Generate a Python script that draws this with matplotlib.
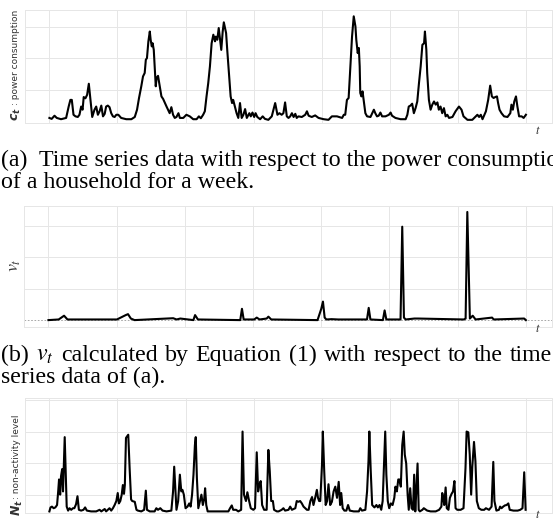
import numpy as np
import matplotlib
matplotlib.use("Agg")
import matplotlib.pyplot as plt

plt.rcParams['mathtext.fontset'] = 'stix'

# (a) power consumption c_t over one week (hours)
hours_a = [0.0, 0.8, 1.8, 2.6, 4.1, 5.9, 6.8, 7.4, 7.9, 8.5, 9.2, 10.0, 10.6, 11.2, 11.7, 12.1, 12.7, 13.3,
           13.9, 14.5, 15.1, 15.9, 16.5, 17.1, 17.7, 18.3, 18.9, 19.5, 20.0, 20.6, 21.2, 21.8, 22.4, 23.0,
           23.6, 24.3, 25.3, 27.1, 28.9, 30.1, 30.9, 31.6, 32.4, 33.0, 33.6, 34.0, 34.4, 34.9, 35.4, 35.7,
           36.1, 36.4, 36.8, 37.1, 37.5, 37.8, 38.3, 38.9, 39.5, 40.1, 41.3, 42.4, 43.0, 43.6, 44.2, 44.8,
           45.5, 46.0, 47.2, 48.3, 49.5, 50.7, 51.9, 52.7, 53.4, 54.2, 54.8, 55.4, 56.0, 56.6, 57.2, 57.8,
           58.4, 58.7, 59.2, 59.7, 60.1, 60.6, 61.1, 61.5, 62.3, 62.7, 63.4, 63.9, 64.4, 64.8, 65.4, 66.0,
           66.6, 67.2, 67.8, 68.4, 69.0, 69.6, 70.5, 71.0, 71.6, 72.2, 72.7, 73.3, 74.3, 75.2, 76.0, 77.2,
           78.4, 79.6, 80.4, 81.1, 81.9, 82.5, 83.1, 83.7, 84.3, 84.9, 85.5, 86.1, 86.7, 87.2, 87.8, 89.0,
           90.2, 90.8, 91.4, 92.5, 93.7, 94.9, 96.7, 98.4, 99.6, 101.4, 103.2, 103.8, 104.3, 104.9, 105.5,
           106.1, 106.7, 107.3, 107.9, 108.2, 108.7, 109.1, 109.4, 109.6, 110.0, 110.4, 110.8, 111.4, 112.0,
           113.2, 114.4, 114.9, 115.5, 116.1, 116.7, 117.3, 118.5, 119.7, 120.3, 120.8, 122.0, 123.8, 125.6,
           126.2, 126.7, 127.3, 127.9, 128.5, 129.1, 129.7, 130.3, 130.9, 131.5, 132.1, 132.4, 132.9, 133.2,
           133.8, 134.4, 135.0, 135.6, 136.2, 136.8, 137.3, 137.9, 138.5, 139.1, 139.7, 140.3, 140.9, 142.1,
           143.2, 144.4, 145.3, 146.0, 147.4, 149.1, 150.3, 150.9, 151.5, 152.1, 152.7, 153.9, 154.7, 155.4,
           156.0, 156.6, 157.2, 157.8, 158.2, 158.7, 159.4, 160.3, 161.5, 162.5, 162.9, 163.4, 163.9, 164.5,
           165.0, 165.6, 166.5, 167.2, 168.0]
power_a = [0.12, 0.09, 0.19, 0.12, 0.08, 0.12, 0.48, 0.69, 0.69, 0.22, 0.17, 0.15, 0.22, 0.48, 0.38, 0.78, 0.74, 0.85,
           1.20, 0.69, 0.15, 0.38, 0.48, 0.22, 0.33, 0.51, 0.17, 0.25, 0.48, 0.51, 0.46, 0.27, 0.17, 0.15,
           0.22, 0.22, 0.12, 0.08, 0.08, 0.15, 0.38, 0.75, 1.12, 1.43, 1.54, 1.96, 2.01, 2.54, 2.85, 2.59,
           2.38, 2.48, 2.27, 1.75, 1.12, 1.38, 1.45, 1.12, 0.80, 0.72, 0.48, 0.27, 0.46, 0.22, 0.12, 0.15,
           0.27, 0.12, 0.12, 0.22, 0.17, 0.08, 0.08, 0.17, 0.11, 0.22, 0.33, 0.80, 1.22, 1.75, 2.48, 2.75,
           2.54, 2.69, 2.59, 2.96, 2.64, 2.27, 2.85, 3.14, 2.80, 2.27, 1.43, 0.80, 0.59, 0.69, 0.48, 0.27,
           0.12, 0.59, 0.12, 0.22, 0.40, 0.12, 0.27, 0.17, 0.29, 0.15, 0.27, 0.15, 0.08, 0.17, 0.09, 0.06,
           0.17, 0.59, 0.22, 0.27, 0.22, 0.27, 0.61, 0.17, 0.12, 0.17, 0.27, 0.15, 0.25, 0.12, 0.17, 0.15,
           0.22, 0.33, 0.19, 0.15, 0.20, 0.12, 0.08, 0.06, 0.17, 0.17, 0.12, 0.22, 0.22, 0.69, 0.75,
           1.75, 2.69, 3.33, 3.01, 2.59, 2.17, 2.33, 1.75, 0.91, 0.80, 0.96, 0.69, 0.27, 0.17,
           0.15, 0.38, 0.27, 0.17, 0.19, 0.29, 0.17, 0.17, 0.22, 0.29, 0.19, 0.12, 0.08, 0.08,
           0.22, 0.48, 0.51, 0.57, 0.27, 0.43, 0.64, 1.22, 1.75, 2.43, 2.48, 2.85, 2.27, 1.54,
           0.69, 0.38, 0.54, 0.64, 0.54, 0.61, 0.38, 0.48, 0.27, 0.43, 0.17, 0.22, 0.12, 0.15,
           0.33, 0.48, 0.38, 0.17, 0.06, 0.06, 0.17, 0.22, 0.15, 0.22, 0.08, 0.33, 0.69, 1.14,
           0.80, 0.75, 0.78, 0.80, 0.59, 0.38, 0.27, 0.17, 0.15, 0.27, 0.54, 0.38, 0.64, 0.80,
           0.48, 0.17, 0.17, 0.12, 0.22]

# (b) v_t from Equation (1)
hours_b = [0, 3.6, 5.5, 6.7, 24.1, 27.2, 28.0, 29.0, 30.3, 43.9, 45.1, 46.4, 51.0, 51.6, 52.6, 67.5, 68.1, 68.7,
           72.4, 73.3, 74.3, 76.8, 77.4, 78.4, 94.7, 96.0, 96.6, 97.2, 97.8, 99.6, 102.0, 112.1, 112.7, 113.3,
           117.7, 118.3, 118.9, 123.9, 124.5, 125.1, 125.7, 128.8, 130.1, 146.2, 146.8, 147.4, 148.3, 149.3,
           150.3, 156.1, 156.7, 167.4, 168.0]
v_b = [0.0, 0.02, 0.14, 0.02, 0.02, 0.16, 0.19, 0.05, 0.0, 0.06, 0.02, 0.05, 0.0, 0.16, 0.02, 0.0, 0.36, 0.02,
       0.02, 0.08, 0.02, 0.05, 0.11, 0.02, 0.0, 0.36, 0.59, 0.08, 0.02, 0.03, 0.02, 0.02, 0.39, 0.02,
       0.0, 0.31, 0.02, 0.02, 2.98, 0.08, 0.02, 0.05, 0.05, 0.02, 0.05, 3.45, 0.05, 0.14,
       0.02, 0.08, 0.02, 0.05, 0.0]

# (c) non-activity level N_t
hours_c = [0.0, 0.4, 0.9, 1.5, 2.1, 2.7, 3.1, 3.4, 3.8, 4.1, 4.5, 4.8, 5.2, 5.4, 5.8, 6.1, 6.6, 7.1, 7.7, 8.3,
           8.8, 9.4, 9.9, 10.4, 11.2, 12.0, 12.6, 13.2, 14.7, 16.5, 17.7, 18.3, 19.5, 20.0, 20.6, 21.2, 21.8,
           22.4, 23.0, 23.6, 24.1, 24.5, 25.0, 25.5, 25.9, 26.3, 26.6, 27.0, 27.4, 27.8, 28.3, 28.8, 29.2,
           30.1, 30.7, 31.2, 32.4, 33.4, 34.0, 34.4, 35.4, 37.1, 37.7, 38.3, 39.1, 39.9, 41.3, 43.0, 43.6,
           44.0, 44.4, 44.8, 45.4, 46.0, 46.5, 46.9, 47.4, 48.0, 48.7, 49.3, 49.8, 50.3, 50.8, 51.3, 51.6,
           52.0, 52.5, 53.1, 53.6, 54.1, 54.6, 54.9, 55.3, 55.8, 57.8, 60.1, 63.1, 63.7, 64.3, 64.8, 65.8,
           66.6, 67.6, 68.1, 68.6, 69.3, 69.8, 70.3, 71.0, 71.9, 72.5, 73.1, 73.6, 74.0, 74.5, 75.0, 75.7,
           76.6, 77.2, 77.7, 78.2, 78.8, 79.2, 80.2, 80.8, 81.9, 82.5, 83.1, 84.3, 84.9, 85.5, 86.7, 87.2,
           87.8, 88.4, 89.0, 89.6, 90.2, 90.8, 91.4, 92.0, 92.6, 93.1, 93.7, 94.3, 94.7, 95.1, 95.5, 96.1,
           96.4, 96.9, 97.4, 97.9, 98.4, 99.0, 99.6, 100.2, 100.8, 101.4, 102.0, 102.5, 102.9, 103.4, 104.0,
           104.7, 105.3, 105.9, 107.3, 109.1, 109.6, 110.2, 111.4, 112.0, 112.5, 112.8, 113.3, 113.8, 114.6,
           115.3, 115.8, 116.4, 117.0, 117.5, 118.0, 118.4, 118.8, 119.3, 119.8, 120.4, 121.0, 121.6, 122.0,
           122.5, 123.0, 123.4, 123.9, 124.4, 124.9, 125.3, 125.8, 126.3, 126.7, 127.2, 127.7, 128.2, 128.6,
           129.0, 129.3, 129.8, 130.2, 130.6, 131.5, 132.0, 133.2, 134.4, 136.2, 137.4, 138.2, 138.5, 138.9,
           139.2, 139.7, 140.1, 140.7, 141.2, 141.8, 142.3, 142.8, 143.2, 143.8, 145.0, 146.0, 146.7, 147.1,
           147.7, 148.2, 148.7, 149.1, 149.7, 150.2, 150.7, 151.4, 152.3, 153.3, 153.9, 155.0, 155.9, 156.5,
           156.9, 157.6, 158.5, 158.9, 159.4, 160.0, 160.6, 161.2, 161.8, 162.3, 163.6, 165.1, 166.0, 166.8,
           167.4, 167.9]
level_c = [0, 0.05, 0.06, 0.04, 0.05, 0.08, 0.25, 0.40, 0.21, 0.44, 0.53, 0.25, 0.71, 0.93, 0.42, 0.06, 0.01, 0.04, 0.02, 0.04,
           0.04, 0.09, 0.19, 0.02, 0.01, 0.02, 0.05, 0.01, 0, 0, 0.02, 0, 0.03, 0, 0.02, 0.04, 0.01,
           0.04, 0.08, 0.13, 0.23, 0.10, 0.13, 0.21, 0.33, 0.22, 0.33, 0.92, 0.94, 0.96, 0.53, 0.15, 0.13,
           0.12, 0.02, 0.01, 0, 0.02, 0.26, 0.02, 0, 0, 0.04, 0.02, 0.04, 0.01, 0, 0.01, 0.25,
           0.56, 0.29, 0.02, 0.13, 0.46, 0.25, 0.27, 0.21, 0.04, 0.06, 0.10, 0.06, 0.21, 0.46, 0.83, 0.93,
           0.42, 0.04, 0.13, 0.21, 0.08, 0.16, 0.29, 0.08, 0, 0, 0, 0, 0.04, 0.075, 0.02, 0.02,
           0, 0.02, 1.0, 0.21, 0.13, 0.24, 0.15, 0.04, 0.02, 0.04, 0.74, 0.25, 0.33, 0.38, 0.08, 0.02,
           0.02, 0.77, 0.50, 0.13, 0.13, 0.02, 0, 0, 0.02, 0.04, 0.01, 0.02, 0.06, 0.02, 0.04, 0.13,
           0.12, 0.13, 0.10, 0.06, 0.04, 0.02, 0.02, 0.13, 0.18, 0.08, 0.17, 0.27, 0.17, 0.13, 0.13, 0.58,
           1.0, 0.50, 0.08, 0.13, 0.34, 0.08, 0.12, 0.25, 0.31, 0.17, 0.37, 0.08, 0.23, 0.04, 0.01,
           0.01, 0.08, 0.01, 0, 0, 0.04, 0.01, 0.02, 0.25, 0.63, 1.0, 0.50, 0.08, 0.05,
           0.08, 0.05, 0.08, 0.02, 0.13, 0.63, 1.0, 0.46, 0.13, 0.04, 0.10, 0.08, 0.17, 0.31,
           0.25, 0.40, 0.40, 0.31, 0.83, 1.0, 0.71, 0.60, 0.21, 0.02, 0.29, 0.04, 0.02, 0.46,
           0, 0.21, 0.60, 0.02, 0, 0.02, 0.04, 0.01, 0, 0, 0.02, 0.06, 0.23, 0.17,
           0.08, 0.30, 0.04, 0.02, 0.17, 0.22, 0.25, 0.38, 0.04, 0.02, 0.02, 0.04, 0.54, 1.0,
           0.99, 0.71, 0.21, 0.56, 0.87, 0.63, 0.13, 0.04, 0.02, 0.02, 0.04, 0.02, 0.06, 0.62,
           0.13, 0.01, 0.02, 0.06, 0.04, 0.06, 0.075, 0.08, 0.10, 0.02, 0.01, 0.01, 0.02, 0.04,
           0.49, 0.02]

caption_a = ["(a)  Time series data with respect to the power consumption", "of a household for a week."]
caption_b = [r"(b) $v_t$ calculated by Equation (1) with respect to the time", "series data of (a)."]

W, H = 553, 520
fig = plt.figure(figsize=(W / 100, H / 100), dpi=100)


def px_axes(l, t, r, b):
    return fig.add_axes([l / W, 1 - b / H, (r - l) / W, (b - t) / H])


def px_text(x, y, s, **kw):
    return fig.text(x / W, 1 - y / H, s, **kw)


def style(ax, yticks, ylim):
    ax.set_xlim(-8.6, 177.2)
    ax.set_ylim(*ylim)
    ax.set_xticks(np.arange(0, 169, 24))
    ax.set_yticks(yticks)
    ax.grid(True, color='#e6e6e6', lw=0.7)
    ax.set_axisbelow(True)
    ax.tick_params(length=0, labelbottom=False, labelleft=False)
    for s in ax.spines.values():
        s.set_color('#e6e6e6')
        s.set_linewidth(0.7)


ax1 = px_axes(25, 10, 552, 123)
ax1.plot(hours_a, power_a, color='black', lw=1.5)
style(ax1, [1, 2, 3], (-0.04, 3.53))

ax2 = px_axes(24, 206, 552, 327)
ax2.axhline(0, color='#999999', lw=0.6, ls=(0, (2, 2)))
ax2.plot(hours_b, v_b, color='black', lw=1.5)
style(ax2, [1, 2, 3], (-0.22, 3.64))

ax3 = px_axes(25, 398, 552, 513)
ax3.plot(hours_c, level_c, color='black', lw=1.5)
style(ax3, [0.2, 0.6, 1.0, 1.4], (-0.02, 1.42))

# axis labels
lab = dict(rotation=90, ha='center', color='#333333')
px_text(16, 121, r"$\mathbfit{c_t}$", va='bottom', fontsize=9, math_fontfamily='dejavusans', **lab)
px_text(16, 105, ": power consumption", va='bottom', fontsize=6.5, **lab)
px_text(14, 265, r"$v_t$", va='center', fontsize=13, **lab)
px_text(17, 516, r"$\mathbfit{N_t}$", va='bottom', fontsize=9, math_fontfamily='dejavusans', **lab)
px_text(17, 499, ": non-activity level", va='bottom', fontsize=6.5, **lab)
for ty in [130, 328, 515]:
    px_text(538, ty, r"$t$", ha='center', va='center', fontsize=9, color='#333333')

# captions
serif = dict(family=['Liberation Serif', 'DejaVu Serif'], fontsize=17.2, color='black', va='baseline')
px_text(1, 166, caption_a[0], **serif)
px_text(1, 188, caption_a[1], **serif)
px_text(1, 383, caption_b[1], **serif)

# first line of (b) is justified to the full width, like the paper's caption
words = caption_b[0].split(' ')
objs = [px_text(0, 361, w, **serif) for w in words]
renderer = fig.canvas.get_renderer()
widths = [o.get_window_extent(renderer).width for o in objs]
gap = (552 - 1 - sum(widths)) / (len(words) - 1)
x = 1
for o, wd in zip(objs, widths):
    o.set_x(x / W)
    x += wd + gap

fig.savefig("out.png", dpi=100)
